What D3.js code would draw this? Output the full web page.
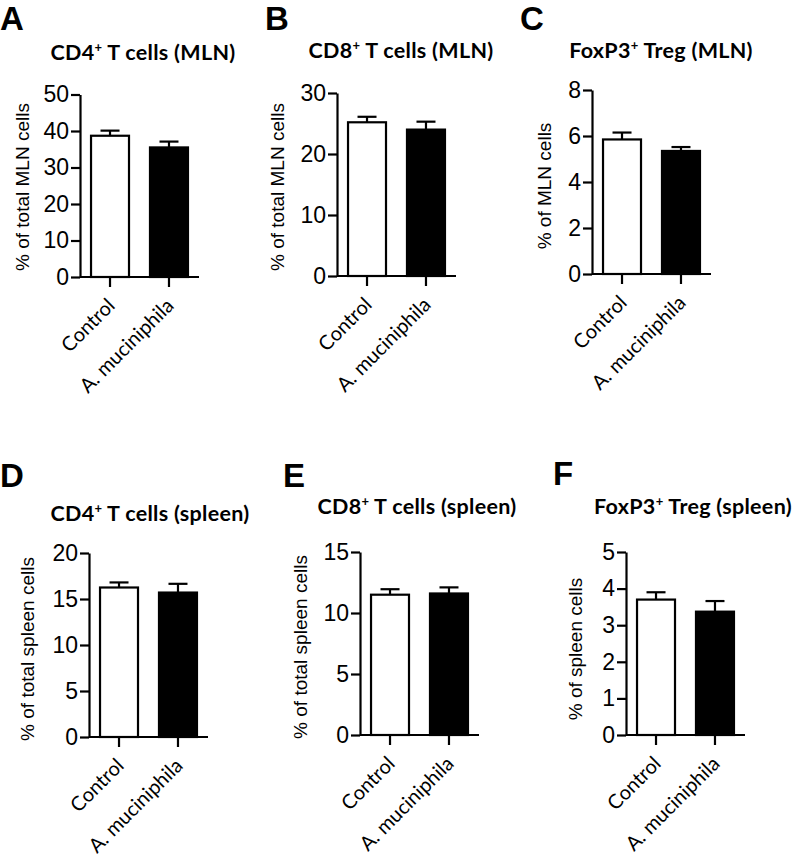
<!DOCTYPE html>
<html>
<head>
<meta charset="utf-8">
<script src="https://cdn.jsdelivr.net/npm/d3@7/dist/d3.min.js"></script>
<style>
  html, body { margin: 0; padding: 0; background: #fff; }
  svg { display: block; }
</style>
</head>
<body>
<svg id="chart" width="799" height="856"></svg>
<script>
// ---- data ----
const panelLetters = ["A", "B", "C", "D", "E", "F"];
const titleMain = ["CD4", "CD8", "FoxP3", "CD4", "CD8", "FoxP3"];
const titleRest = [" T cells (MLN)", " T cells (MLN)", " Treg (MLN)", " T cells (spleen)", " T cells (spleen)", " Treg (spleen)"];
const yLabels = ["% of total MLN cells", "% of total MLN cells", "% of MLN cells",
                 "% of total spleen cells", "% of total spleen cells", "% of spleen cells"];
const groups = ["Control", "A. muciniphila"];
const yMax = [50, 30, 8, 20, 15, 5];
const yTicks = [[0, 10, 20, 30, 40, 50], [0, 10, 20, 30], [0, 2, 4, 6, 8],
                [0, 5, 10, 15, 20], [0, 5, 10, 15], [0, 1, 2, 3, 4, 5]];
const controlMean = [38.7, 25.2, 5.85, 16.25, 11.5, 3.7];
const controlSem  = [1.4, 0.9, 0.3, 0.55, 0.45, 0.2];
const amucMean    = [35.5, 24.0, 5.35, 15.7, 11.6, 3.37];
const amucSem     = [1.6, 1.3, 0.17, 0.95, 0.5, 0.29];

// ---- layout (pixel placement of each panel) ----
const layout = [
  {ax: 80,  y0: 277, yt: 94.5, tx: 143, ty: 60,  lx: 0,   ly: 30,  ylx: 22,  yly: 187},
  {ax: 337, y0: 276, yt: 93,   tx: 401, ty: 58,  lx: 265, ly: 30,  ylx: 277, yly: 187},
  {ax: 592, y0: 274, yt: 90,   tx: 661, ty: 58,  lx: 520, ly: 30,  ylx: 544, yly: 186},
  {ax: 89,  y0: 737, yt: 553,  tx: 150, ty: 521, lx: 0,   ly: 487, ylx: 27,  yly: 649},
  {ax: 360, y0: 735, yt: 552,  tx: 417, ty: 514, lx: 283, ly: 487, ylx: 300, yly: 647},
  {ax: 626, y0: 735, yt: 552,  tx: 693, ty: 514, lx: 553, ly: 485, ylx: 575, yly: 649}
];
const plotW = 119;

const svg = d3.select("#chart");
const numFont = "'Liberation Sans', Arial, sans-serif";
const calFont = "Lato, 'Open Sans', sans-serif";

panelLetters.forEach((letter, i) => {
  const L = layout[i];
  const g = svg.append("g");

  // panel letter
  g.append("text").attr("x", L.lx).attr("y", L.ly)
    .attr("font-family", numFont).attr("font-weight", "bold")
    .attr("font-size", 33).text(letter);

  // title
  const t = g.append("text").attr("x", L.tx).attr("y", L.ty)
    .attr("text-anchor", "middle").attr("font-family", calFont)
    .attr("font-weight", "bold").attr("font-size", 21.5)
    .attr("letter-spacing", 0.3);
  t.append("tspan").text(titleMain[i]);
  t.append("tspan").attr("dy", -8).attr("font-size", 13).text("+");
  t.append("tspan").attr("dy", 8).text(titleRest[i]);

  const y = d3.scaleLinear().domain([0, yMax[i]]).range([L.y0, L.yt]);
  const x = d3.scaleBand().domain(groups).range([L.ax, L.ax + plotW])
    .paddingInner(0.322).paddingOuter(0.17);

  const vals = [
    {g: groups[0], m: controlMean[i], e: controlSem[i], fill: "#fff"},
    {g: groups[1], m: amucMean[i],    e: amucSem[i],    fill: "#000"}
  ];
  // error bars (upper only)
  vals.forEach(d => {
    const cx = x(d.g) + x.bandwidth() / 2;
    g.append("line").attr("x1", cx).attr("x2", cx)
      .attr("y1", y(d.m)).attr("y2", y(d.m + d.e))
      .attr("stroke", "#000").attr("stroke-width", 2.2);
    g.append("line").attr("x1", cx - 9.5).attr("x2", cx + 9.5)
      .attr("y1", y(d.m + d.e)).attr("y2", y(d.m + d.e))
      .attr("stroke", "#000").attr("stroke-width", 2.2);
  });
  // bars
  vals.forEach(d => {
    g.append("rect").attr("x", x(d.g) + 1).attr("width", x.bandwidth() - 2)
      .attr("y", y(d.m)).attr("height", y(0) - y(d.m))
      .attr("fill", d.fill).attr("stroke", "#000").attr("stroke-width", 2.2);
  });

  // y axis
  const ya = g.append("g").attr("transform", `translate(${L.ax},0)`)
    .call(d3.axisLeft(y).tickValues(yTicks[i]).tickFormat(d3.format("d"))
      .tickSize(9).tickSizeOuter(0).tickPadding(2));
  ya.selectAll("path").attr("stroke", "#000").attr("stroke-width", 2.2);
  ya.selectAll(".tick line").attr("stroke", "#000").attr("stroke-width", 2.2);
  ya.selectAll(".tick text").attr("font-family", numFont).attr("font-size", 23).attr("fill", "#000");

  // x axis
  const xa = g.append("g").attr("transform", `translate(0,${L.y0})`)
    .call(d3.axisBottom(x).tickSize(10).tickSizeOuter(0).tickFormat(""));
  xa.select("path").attr("d", `M${L.ax},0H${L.ax + plotW}`)
    .attr("stroke", "#000").attr("stroke-width", 2.2);
  xa.selectAll(".tick line").attr("stroke", "#000").attr("stroke-width", 2.2);

  // x labels rotated
  groups.forEach(gr => {
    const cx = x(gr) + x.bandwidth() / 2;
    g.append("text")
      .attr("transform", `translate(${cx + 6},${L.y0 + 30}) rotate(-45)`)
      .attr("text-anchor", "end").attr("font-family", calFont)
      .attr("font-size", 20).text(gr);
  });

  // y label
  g.append("text")
    .attr("transform", `translate(${L.ylx},${L.yly}) rotate(-90)`)
    .attr("text-anchor", "middle").attr("dy", "0.35em")
    .attr("font-family", numFont).attr("font-size", 19).text(yLabels[i]);
});
</script>
</body>
</html>
